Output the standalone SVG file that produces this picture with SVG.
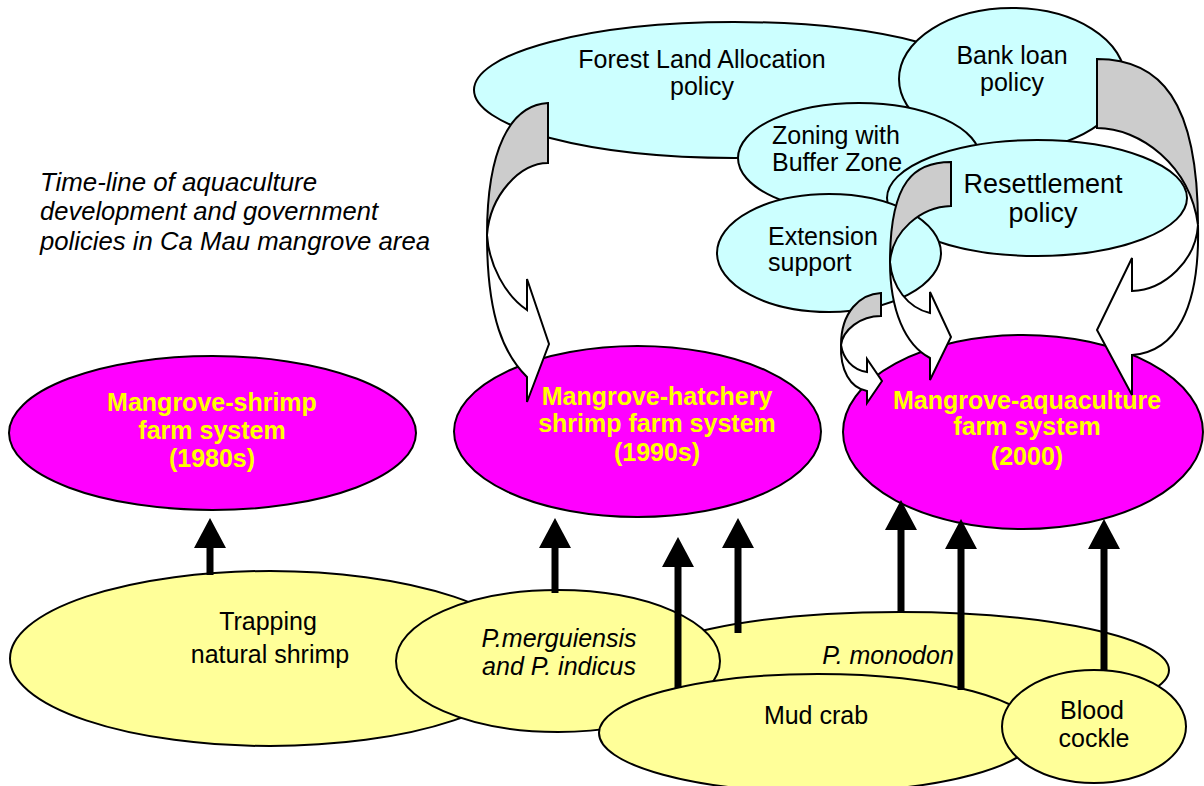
<svg xmlns="http://www.w3.org/2000/svg" width="1204" height="786" viewBox="0 0 1204 786">
<defs>
<style>
.cy{fill:#CCFFFF;stroke:#000;stroke-width:2}
.mg{fill:#FF00FF;stroke:#000;stroke-width:2}
.yl{fill:#FFFF99;stroke:#000;stroke-width:2}
.t{font-family:"Liberation Sans",Arial,sans-serif;font-size:25px;fill:#000}
.b{font-weight:bold;fill:#FFFF00}
.i{font-style:italic}
.c{text-anchor:middle}
.gr{fill:#CCCCCC;stroke:#000;stroke-width:2}
.wh{fill:#FFFFFF;stroke:#000;stroke-width:2}
.ar{stroke:#000;stroke-width:7;fill:none;marker-end:url(#head)}
</style>
<marker id="head" markerUnits="userSpaceOnUse" markerWidth="32" markerHeight="34" viewBox="0 -17 31 34" refX="0" refY="0" orient="auto">
<path d="M0,-16 L30,0 L0,16 Z" fill="#000"/>
</marker>
</defs>
<rect width="1204" height="786" fill="#FFFFFF"/>

<g id="title" class="t i">
<text x="40" y="191" textLength="277" lengthAdjust="spacingAndGlyphs">Time-line of aquaculture</text>
<text x="40" y="220" textLength="338" lengthAdjust="spacingAndGlyphs">development and government</text>
<text x="40" y="250" textLength="390" lengthAdjust="spacingAndGlyphs">policies in Ca Mau mangrove area</text>
</g>

<g id="forest-land-allocation">
<ellipse class="cy" cx="734" cy="90" rx="260" ry="68"/>
<text class="t c" x="702" y="68">Forest Land Allocation</text>
<text class="t c" x="702" y="95">policy</text>
</g>
<g id="bank-loan">
<ellipse class="cy" cx="1012" cy="79" rx="113" ry="71"/>
<text class="t c" x="1012" y="64">Bank loan</text>
<text class="t c" x="1012" y="91">policy</text>
</g>
<g id="zoning">
<ellipse class="cy" cx="859" cy="158" rx="121" ry="55"/>
<text class="t" x="772" y="144">Zoning with</text>
<text class="t" x="772" y="171">Buffer Zone</text>
</g>
<g id="resettlement">
<ellipse class="cy" cx="1037" cy="198" rx="150" ry="58"/>
<text class="t c" x="1043" y="193" style="font-size:27px">Resettlement</text>
<text class="t c" x="1043" y="222" style="font-size:27px">policy</text>
</g>
<g id="extension">
<ellipse class="cy" cx="829" cy="253" rx="112" ry="59"/>
<text class="t" x="768" y="245">Extension</text>
<text class="t" x="768" y="271">support</text>
</g>

<g id="mangrove-shrimp">
<ellipse class="mg" cx="212.5" cy="433" rx="203.5" ry="77"/>
<text class="t b c" x="212" y="411">Mangrove-shrimp</text>
<text class="t b c" x="212" y="439">farm system</text>
<text class="t b c" x="212" y="467">(1980s)</text>
</g>
<g id="mangrove-hatchery">
<ellipse class="mg" cx="637.5" cy="431.5" rx="183.5" ry="85.5"/>
<text class="t b c" x="657" y="405">Mangrove-hatchery</text>
<text class="t b c" x="657" y="432">shrimp farm system</text>
<text class="t b c" x="657" y="461">(1990s)</text>
</g>
<g id="mangrove-aquaculture">
<ellipse class="mg" cx="1023" cy="432" rx="180" ry="97"/>
<text class="t b c" x="1027" y="409">Mangrove-aquaculture</text>
<text class="t b c" x="1027" y="435">farm system</text>
<text class="t b c" x="1027" y="465">(2000)</text>
</g>

<g id="trapping">
<ellipse class="yl" cx="270" cy="658.5" rx="260" ry="87.5"/>
<text class="t c" x="268" y="630">Trapping</text>
<text class="t c" x="270" y="663">natural shrimp</text>
</g>
<g id="p-monodon">
<ellipse class="yl" cx="900" cy="670" rx="269" ry="58"/>
<text class="t i c" x="888" y="664">P. monodon</text>
</g>
<g id="p-merguiensis">
<ellipse class="yl" cx="558" cy="661" rx="162" ry="71"/>
<text class="t i c" x="559" y="647">P.merguiensis</text>
<text class="t i c" x="559" y="675">and P. indicus</text>
</g>
<g id="mud-crab">
<ellipse class="yl" cx="818" cy="733" rx="219" ry="59"/>
<text class="t c" x="816" y="724">Mud crab</text>
</g>
<g id="blood-cockle">
<ellipse class="yl" cx="1094" cy="726.5" rx="92" ry="56.5"/>
<text class="t c" x="1092" y="719">Blood</text>
<text class="t c" x="1094" y="747">cockle</text>
</g>

<g id="connectors">
<path class="ar" d="M210,575 V548"/>
<path class="ar" d="M555,593 V548"/>
<path class="ar" d="M678,688 V567"/>
<path class="ar" d="M738,633 V548"/>
<path class="ar" d="M901,612 V530"/>
<path class="ar" d="M961,690 V549"/>
<path class="ar" d="M1104,670 V549"/>

<path class="gr" d="M548,103 C510,105 487,150 487,235 C490,195 520,163 548,163 Z"/>
<path class="wh" d="M487,235 C489,265 505,295 527,310 L527,279 L549,344 L527,402 L527,377 C505,355 487,320 487,235 Z"/>

<path class="gr" d="M881,293 C860,294 841,312 841,345 C843,330 860,316 881,316 Z"/>
<path class="wh" d="M841,345 C843,358 852,370 867,372 L867,359 L882,381 L867,403 L867,391 C850,388 840,370 841,345 Z"/>

<path class="gr" d="M951,162 C915,162 890,180 890,262 C892,232 920,207 951,206 Z"/>
<path class="wh" d="M890,262 C892,287 908,308 930,313 L930,292 L951,337 L930,380 L930,358 C905,345 890,310 890,262 Z"/>

<path class="gr" d="M1097,59 C1160,59 1198,100 1198,225 C1190,165 1140,128 1097,128 Z"/>
<path class="wh" d="M1198,225 C1196,260 1165,290 1132,291 L1132,258 L1097,330 L1132,395 L1132,355 C1175,352 1200,310 1198,225 Z"/>
</g>
</svg>
